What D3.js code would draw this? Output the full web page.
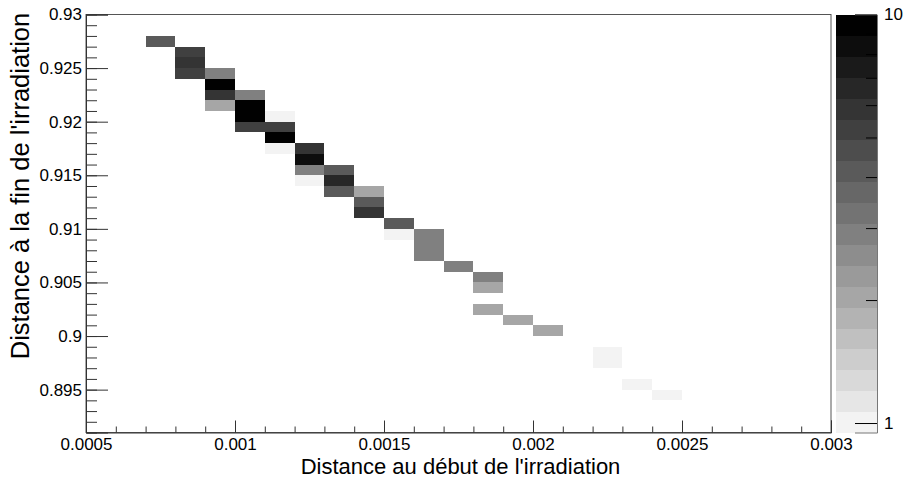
<!DOCTYPE html>
<html>
<head>
<meta charset="utf-8">
<script src="https://cdn.jsdelivr.net/npm/d3@7"></script>
<style>
  body { margin: 0; background: #fff; }
  svg { display: block; font-family: "Liberation Sans", Arial, sans-serif; }
</style>
</head>
<body>
<svg id="chart" width="907" height="479"></svg>
<script>
// ---- data (bin lower edges in x and y, and counts) ----
const cellX = [0.0007, 0.0008, 0.0008, 0.0008, 0.0009, 0.0009, 0.0009, 0.0009,
               0.0010, 0.0010, 0.0010, 0.0010, 0.0011, 0.0011, 0.0011, 0.0011,
               0.0012, 0.0012, 0.0012, 0.0012, 0.0013, 0.0013, 0.0013,
               0.0014, 0.0014, 0.0014, 0.0015, 0.0015, 0.0016, 0.0016, 0.0016,
               0.0017, 0.0018, 0.0018, 0.0018, 0.0019, 0.0020, 0.0022, 0.0022,
               0.0023, 0.0024];
const cellY = [0.927, 0.926, 0.925, 0.924, 0.924, 0.923, 0.922, 0.921,
               0.922, 0.921, 0.920, 0.919, 0.920, 0.919, 0.918, 0.917,
               0.917, 0.916, 0.915, 0.914, 0.915, 0.914, 0.913,
               0.913, 0.912, 0.911, 0.910, 0.909, 0.909, 0.908, 0.907,
               0.906, 0.905, 0.904, 0.902, 0.901, 0.900, 0.898, 0.897,
               0.895, 0.894];
const cellCount = [4, 5, 6, 5, 3, 9, 6, 2,
                   3, 10, 10, 5, 1, 5, 9, 1,
                   6, 8, 3, 1, 4, 7, 4,
                   2, 4, 6, 4, 1, 3, 3, 3,
                   3, 3, 2, 2, 2, 2, 1, 1,
                   1, 1];
const binWidthX = 0.0001;
const binWidthY = 0.001;

const xDomain = [0.0005, 0.003];
const yDomain = [0.891, 0.93];
const zDomain = [0.948, 10];
const nContours = 20;

const xMajorTicks = [0.0005, 0.001, 0.0015, 0.002, 0.0025, 0.003];
const xTickLabels = ["0.0005", "0.001", "0.0015", "0.002", "0.0025", "0.003"];
const yMajorTicks = [0.895, 0.9, 0.905, 0.91, 0.915, 0.92, 0.925, 0.93];
const yTickLabels = ["0.895", "0.9", "0.905", "0.91", "0.915", "0.92", "0.925", "0.93"];
const zMajorTicks = [1, 10];
const zTickLabels = ["1", "10"];
const zMinorTicks = [2, 3, 4, 5, 6, 7, 8, 9];

const xTitle = "Distance au début de l'irradiation";
const yTitle = "Distance à la fin de l'irradiation";

// ---- layout ----
const L = 86, R = 831, T = 14.5, B = 432.5;
const CBL = 836, CBR = 877;

const svg = d3.select("#chart");
const x = d3.scaleLinear().domain(xDomain).range([L, R]);
const y = d3.scaleLinear().domain(yDomain).range([B, T]);
const z = d3.scaleLog().domain(zDomain).range([B, T]);

const lzMin = Math.log10(zDomain[0]), lzMax = Math.log10(zDomain[1]);
function bandOf(v) {
  let b = Math.floor(nContours * (Math.log10(v) - lzMin) / (lzMax - lzMin));
  return Math.max(0, Math.min(nContours - 1, b));
}
function bandColor(b) {
  const g = 255 - Math.floor((b + 0.99) * 255 / nContours);
  return d3.rgb(g, g, g).toString();
}

const xMinor = d3.range(0, 26).map(i => +(xDomain[0] + i * binWidthX).toFixed(5));
const yMinor = d3.range(0, 40).map(i => +(yDomain[0] + i * binWidthY).toFixed(4));

// cells
const cells = cellX.map((cx, i) => ({ x0: cx, y0: cellY[i], v: cellCount[i] }));
svg.append("g").attr("shape-rendering", "crispEdges")
  .selectAll("rect").data(cells).join("rect")
  .attr("x", d => x(d.x0))
  .attr("y", d => y(d.y0 + binWidthY))
  .attr("width", d => x(d.x0 + binWidthX) - x(d.x0))
  .attr("height", d => y(d.y0) - y(d.y0 + binWidthY))
  .attr("fill", d => bandColor(bandOf(d.v)));

// frame
svg.append("rect").attr("x", L).attr("y", T).attr("width", R - L).attr("height", B - T)
  .attr("fill", "none").attr("stroke", "#555").attr("stroke-width", 1);

const axisColor = "#333";
const labelFont = 17;
// x axis
const gx = svg.append("g").attr("transform", `translate(0,${B})`);
gx.call(d3.axisBottom(x).tickValues(xMinor).tickSize(-6).tickFormat(""));
gx.call(g => g.select(".domain").remove());
const gxM = svg.append("g").attr("transform", `translate(0,${B})`);
gxM.call(d3.axisBottom(x).tickValues(xMajorTicks).tickSize(-12).tickPadding(5)
  .tickFormat((d, i) => xTickLabels[i]));
gxM.select(".domain").attr("stroke", axisColor);
gxM.selectAll("text").attr("font-size", labelFont).attr("fill", "#000")
  .attr("font-family", "Liberation Sans, Arial, sans-serif");

// y axis
const gy = svg.append("g").attr("transform", `translate(${L},0)`);
gy.call(d3.axisLeft(y).tickValues(yMinor).tickSize(-11).tickFormat(""));
gy.select(".domain").remove();
const gyM = svg.append("g").attr("transform", `translate(${L},0)`);
gyM.call(d3.axisLeft(y).tickValues(yMajorTicks).tickSize(-22).tickPadding(4)
  .tickFormat((d, i) => yTickLabels[i]));
gyM.select(".domain").attr("stroke", axisColor);
gyM.selectAll("text").attr("font-size", labelFont).attr("fill", "#000")
  .attr("font-family", "Liberation Sans, Arial, sans-serif");
svg.selectAll(".tick line").attr("stroke", axisColor);

// colour bar
const levels = d3.range(0, nContours + 1).map(i => Math.pow(10, lzMin + (lzMax - lzMin) * i / nContours));
const bands = d3.range(0, nContours).map(i => ({ lo: levels[i], hi: levels[i + 1], b: i }));
svg.append("g").attr("shape-rendering", "crispEdges")
  .selectAll("rect").data(bands).join("rect")
  .attr("x", CBL).attr("width", CBR - CBL)
  .attr("y", d => z(d.hi)).attr("height", d => z(d.lo) - z(d.hi) + 0.5)
  .attr("fill", d => bandColor(d.b));

const gz = svg.append("g").attr("transform", `translate(${CBR},0)`);
gz.call(d3.axisRight(z).tickValues(zMinorTicks).tickSize(-11).tickFormat(""));
gz.select(".domain").remove();
const gzM = svg.append("g").attr("transform", `translate(${CBR},0)`);
gzM.call(d3.axisRight(z).tickValues(zMajorTicks).tickSize(-22).tickPadding(7)
  .tickFormat((d, i) => zTickLabels[i]));
gzM.select(".domain").attr("stroke", "#777");
gzM.selectAll("text").attr("font-size", labelFont).attr("fill", "#000")
  .attr("font-family", "Liberation Sans, Arial, sans-serif");
gz.selectAll(".tick line").attr("stroke", "#000");
gzM.selectAll(".tick line").attr("stroke", "#000");

// titles
svg.append("text").attr("x", (L + R) / 2 + 2).attr("y", 474)
  .attr("text-anchor", "middle").attr("font-size", 22).attr("fill", "#000")
  .text(xTitle);
svg.append("text").attr("transform", `translate(29,186) rotate(-90)`)
  .attr("text-anchor", "middle").attr("font-size", 25.5).attr("fill", "#000")
  .text(yTitle);
</script>
</body>
</html>
